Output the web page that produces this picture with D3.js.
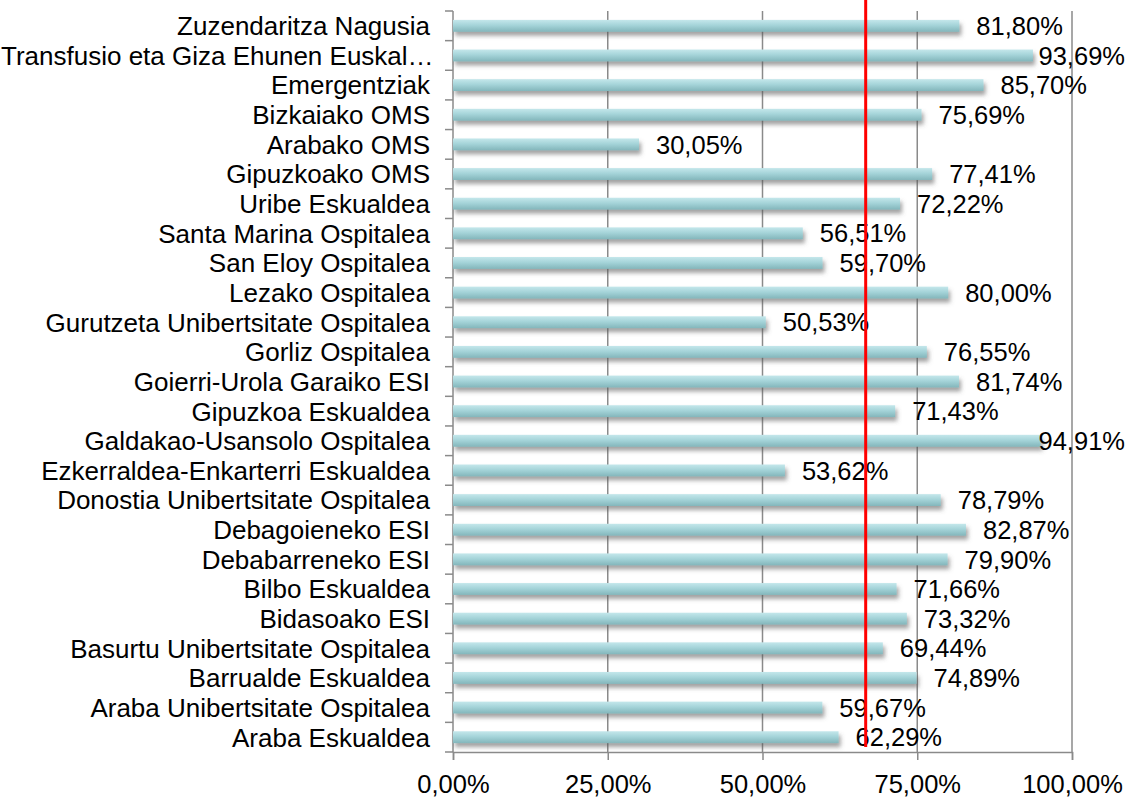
<!DOCTYPE html>
<html>
<head>
<meta charset="utf-8">
<script src="https://cdn.jsdelivr.net/npm/d3@7"></script>
<style>
  body { margin: 0; background: #fff; }
  text { font-family: "Liberation Sans", Arial, sans-serif; fill: #000; }
</style>
</head>
<body>
<div id="chart"></div>
<script>
// categories top to bottom
var categories = [
    "Zuzendaritza Nagusia",
    "Transfusio eta Giza Ehunen Euskal\u2026",
    "Emergentziak",
    "Bizkaiako OMS",
    "Arabako OMS",
    "Gipuzkoako OMS",
    "Uribe Eskualdea",
    "Santa Marina Ospitalea",
    "San Eloy Ospitalea",
    "Lezako Ospitalea",
    "Gurutzeta Unibertsitate Ospitalea",
    "Gorliz Ospitalea",
    "Goierri-Urola Garaiko ESI",
    "Gipuzkoa Eskualdea",
    "Galdakao-Usansolo Ospitalea",
    "Ezkerraldea-Enkarterri Eskualdea",
    "Donostia Unibertsitate Ospitalea",
    "Debagoieneko ESI",
    "Debabarreneko ESI",
    "Bilbo Eskualdea",
    "Bidasoako ESI",
    "Basurtu Unibertsitate Ospitalea",
    "Barrualde Eskualdea",
    "Araba Unibertsitate Ospitalea",
    "Araba Eskualdea"
];
var values = [81.80, 93.69, 85.70, 75.69, 30.05, 77.41, 72.22, 56.51, 59.70, 80.00,
    50.53, 76.55, 81.74, 71.43, 94.91, 53.62, 78.79, 82.87, 79.90, 71.66,
    73.32, 69.44, 74.89, 59.67, 62.29];
var xTicks = [0, 25, 50, 75, 100];
var targetValue = 66.67;

var svgWidth = 1126;
var svgHeight = 798;
var margin = { top: 11, right: 54, bottom: 46, left: 453 };
var width = svgWidth - margin.left - margin.right;
var height = svgHeight - margin.top - margin.bottom;

var fmt = function(v) { return v.toFixed(2).replace(".", ",") + "%"; };

var svg = d3.select("#chart")
    .append("svg")
    .attr("width", svgWidth)
    .attr("height", svgHeight);

// gradient + shadow for the bars
var defs = svg.append("defs");
var grad = defs.append("linearGradient")
    .attr("id", "barGrad")
    .attr("x1", 0).attr("y1", 0).attr("x2", 0).attr("y2", 1);
grad.append("stop").attr("offset", "0%").attr("stop-color", "#c4e7eb");
grad.append("stop").attr("offset", "45%").attr("stop-color", "#a5d4d9");
grad.append("stop").attr("offset", "100%").attr("stop-color", "#83b6bb");

var shadow = defs.append("filter")
    .attr("id", "shadow")
    .attr("x", "-5%").attr("y", "-50%")
    .attr("width", "115%").attr("height", "250%");
shadow.append("feDropShadow")
    .attr("dx", 2).attr("dy", 4)
    .attr("stdDeviation", 2)
    .attr("flood-color", "#555")
    .attr("flood-opacity", 0.55);

var chartGroup = svg.append("g")
    .attr("transform", `translate(${margin.left}, ${margin.top})`);

// scales
var xScale = d3.scaleLinear()
    .domain([0, 100])
    .range([0, width]);

var yScale = d3.scaleBand()
    .domain(categories)
    .range([0, height])
    .paddingInner(0.6)
    .paddingOuter(0.3);

// vertical gridlines
chartGroup.selectAll(".grid")
    .data(xTicks.slice(1))
    .enter()
    .append("line")
    .attr("class", "grid")
    .attr("x1", d => xScale(d))
    .attr("x2", d => xScale(d))
    .attr("y1", 0)
    .attr("y2", height)
    .attr("stroke", "#8a8a8a")
    .attr("stroke-width", 1.5);

// bottom axis
var bottomAxis = d3.axisBottom(xScale)
    .tickValues(xTicks)
    .tickSize(8)
    .tickFormat(fmt);
var xAxisG = chartGroup.append("g")
    .attr("transform", `translate(0, ${height})`)
    .call(bottomAxis);
xAxisG.select(".domain").attr("stroke", "#8a8a8a").attr("stroke-width", 1.5);
xAxisG.selectAll(".tick line").attr("stroke", "#8a8a8a").attr("stroke-width", 1.5);
xAxisG.selectAll(".tick text")
    .attr("y", 23)
    .attr("dy", "0.71em")
    .style("font-size", "25.5px")
    .style("font-family", "'Liberation Sans', Arial, sans-serif")
    .attr("fill", "#000");

// left axis: line plus ticks at slot boundaries
chartGroup.append("line")
    .attr("x1", 0).attr("x2", 0)
    .attr("y1", 0).attr("y2", height)
    .attr("stroke", "#8a8a8a")
    .attr("stroke-width", 1.5);

var boundaries = d3.range(categories.length + 1).map(i => i * yScale.step());
chartGroup.selectAll(".ytick")
    .data(boundaries)
    .enter()
    .append("line")
    .attr("class", "ytick")
    .attr("x1", -8).attr("x2", 0)
    .attr("y1", d => d).attr("y2", d => d)
    .attr("stroke", "#8a8a8a")
    .attr("stroke-width", 1.5);

// category labels (pushed right if too wide so nothing is cut at the left edge)
chartGroup.selectAll(".catLabel")
    .data(categories)
    .enter()
    .append("text")
    .attr("class", "catLabel")
    .attr("y", d => yScale(d) + yScale.bandwidth() / 2)
    .attr("dy", "0.36em")
    .attr("text-anchor", "start")
    .style("font-size", "26px")
    .text(d => d)
    .attr("x", function() {
        var w = this.getComputedTextLength();
        return Math.max(-23 - w, -margin.left + 1);
    });

// bars
var data = categories.map((c, i) => ({ cat: c, value: values[i] }));

chartGroup.selectAll(".bar")
    .data(data)
    .enter()
    .append("rect")
    .attr("class", "bar")
    .attr("x", 0)
    .attr("y", d => yScale(d.cat))
    .attr("width", d => xScale(d.value))
    .attr("height", yScale.bandwidth())
    .attr("fill", "url(#barGrad)")
    .attr("filter", "url(#shadow)");

// value labels
var valueLabels = chartGroup.selectAll(".valLabel")
    .data(data)
    .enter()
    .append("text")
    .attr("class", "valLabel")
    .attr("y", d => yScale(d.cat) + yScale.bandwidth() / 2)
    .attr("dy", "0.36em")
    .style("font-size", "25.5px")
    .text(d => fmt(d.value));

// keep labels inside the right edge
valueLabels.attr("x", function(d) {
    var w = this.getComputedTextLength();
    return Math.min(xScale(d.value) + 17, width + margin.right - 1 - w);
});

// target line
chartGroup.append("line")
    .attr("x1", xScale(targetValue))
    .attr("x2", xScale(targetValue))
    .attr("y1", -margin.top)
    .attr("y2", height - 5)
    .attr("stroke", "#ff0000")
    .attr("stroke-width", 3);
</script>
</body>
</html>
